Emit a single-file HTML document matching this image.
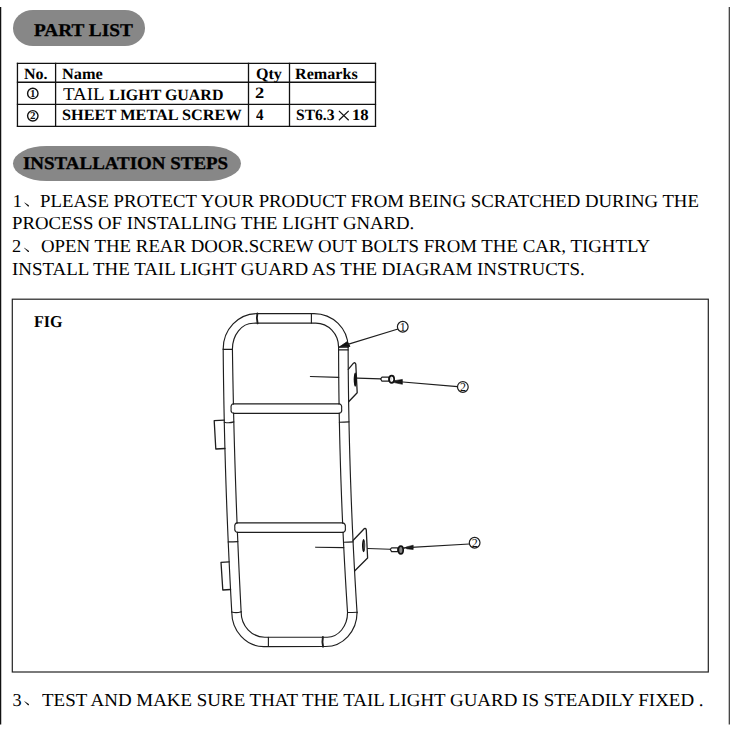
<!DOCTYPE html>
<html><head><meta charset="utf-8"><style>
html,body{margin:0;padding:0;background:#fff;}
body{width:732px;height:732px;position:relative;overflow:hidden;font-family:"Liberation Serif", serif;color:#000;}
.t{position:absolute;white-space:pre;transform-origin:0 0;text-rendering:geometricPrecision;}
.pill{position:absolute;background:#878787;}
svg{position:absolute;left:0;top:0;}
</style></head><body>
<div class="pill" style="left:13px;top:10px;width:132px;height:35.7px;border-radius:20px/17.85px"></div>
<div class="pill" style="left:13px;top:145.5px;width:227.8px;height:35.5px;border-radius:34px/17.75px"></div>
<svg width="732" height="732" viewBox="0 0 732 732">
<line x1="0.6" y1="7" x2="0.6" y2="724.5" stroke="#111" stroke-width="1.3"/>
<line x1="729.3" y1="7" x2="729.3" y2="724.5" stroke="#333" stroke-width="1.2"/>
<line x1="17.45" y1="62.75" x2="17.45" y2="126.94999999999999" stroke="#111" stroke-width="1.3"/>
<line x1="55.6" y1="62.75" x2="55.6" y2="126.94999999999999" stroke="#111" stroke-width="1.3"/>
<line x1="248.5" y1="62.75" x2="248.5" y2="126.94999999999999" stroke="#111" stroke-width="1.3"/>
<line x1="289.5" y1="62.75" x2="289.5" y2="126.94999999999999" stroke="#111" stroke-width="1.3"/>
<line x1="375.5" y1="62.75" x2="375.5" y2="126.94999999999999" stroke="#111" stroke-width="1.3"/>
<line x1="16.849999999999998" y1="63.35" x2="376.1" y2="63.35" stroke="#111" stroke-width="1.3"/>
<line x1="16.849999999999998" y1="82.25" x2="376.1" y2="82.25" stroke="#111" stroke-width="1.3"/>
<line x1="16.849999999999998" y1="104.35" x2="376.1" y2="104.35" stroke="#111" stroke-width="1.3"/>
<line x1="16.849999999999998" y1="126.35" x2="376.1" y2="126.35" stroke="#111" stroke-width="1.3"/>
<circle cx="32.8" cy="93.45" r="5.2" fill="none" stroke="#111" stroke-width="1.4"/>
<text x="32.8" y="97.15" font-size="11" font-weight="bold" text-anchor="middle" font-family="Liberation Serif" fill="#111">1</text>
<circle cx="32.8" cy="115.85" r="5.2" fill="none" stroke="#111" stroke-width="1.4"/>
<text x="32.8" y="118.94999999999999" font-size="11" font-weight="bold" text-anchor="middle" font-family="Liberation Serif" fill="#111">2</text>
<path d="M338.9 110.9 L348.7 120.2 M348.7 110.9 L338.9 120.2" stroke="#111" stroke-width="1.25"/>
<path d="M24.10 202.60 Q24.60 202.20 25.40 203.00 L28.50 205.00 Q29.40 205.70 28.90 206.50 Q28.20 206.90 27.50 206.00 Z" fill="#111"/>
<path d="M24.10 248.00 Q24.60 247.60 25.40 248.40 L28.50 250.40 Q29.40 251.10 28.90 251.90 Q28.20 252.30 27.50 251.40 Z" fill="#111"/>
<path d="M24.10 701.30 Q24.60 700.90 25.40 701.70 L28.50 703.70 Q29.40 704.40 28.90 705.20 Q28.20 705.60 27.50 704.70 Z" fill="#111"/>
<rect x="12.3" y="299.2" width="696" height="372.8" fill="none" stroke="#222" stroke-width="1.2"/>
<path d="M223.19 349 A33.8 35.4 0 0 1 257 313.6 L314 313.6 A34.1 33.6 0 0 1 348.1 347.2" stroke="#1e1e1e" stroke-width="1.15" fill="none" stroke-linecap="round" stroke-linejoin="round"/>
<path d="M232.43 349 A20.7 25.8 0 0 1 253.1 323.2 L315.7 323.1 A22.9 24.1 0 0 1 338.59 347.2" stroke="#1e1e1e" stroke-width="1.15" fill="none" stroke-linecap="round" stroke-linejoin="round"/>
<path d="M257.4 313.4 Q256.2 318.4 257.6 323.4" stroke="#1e1e1e" stroke-width="1.9" fill="none" stroke-linecap="round" stroke-linejoin="round"/>
<path d="M311.4 313.6 L311.4 323.1" stroke="#1e1e1e" stroke-width="1.15" fill="none" stroke-linecap="round" stroke-linejoin="round"/>
<path d="M223.19 349.3 L232.43 349.3" stroke="#1e1e1e" stroke-width="1.15" fill="none" stroke-linecap="round" stroke-linejoin="round"/>
<path d="M338.59 347.2 L348.13 347.2" stroke="#1e1e1e" stroke-width="1.15" fill="none" stroke-linecap="round" stroke-linejoin="round"/>
<path d="M338.59 349.9 L348.13 349.9" stroke="#1e1e1e" stroke-width="1.15" fill="none" stroke-linecap="round" stroke-linejoin="round"/>
<path d="M223.19,349.00 L223.22,352.98 L223.26,356.97 L223.30,360.95 L223.34,364.94 L223.39,368.92 L223.44,372.91 L223.49,376.89 L223.54,380.88 L223.60,384.86 L223.66,388.85 L223.73,392.83 L223.79,396.82 L223.86,400.80 L223.93,404.79 L224.01,408.77 L224.09,412.76 L224.17,416.74 L224.25,420.73 L224.34,424.71 L224.43,428.70 L224.52,432.68 L224.62,436.67 L224.72,440.65 L224.82,444.64 L224.92,448.62 L225.03,452.61 L225.14,456.59 L225.26,460.58 L225.37,464.56 L225.49,468.55 L225.62,472.53 L225.74,476.52 L225.87,480.50 L226.00,484.48 L226.14,488.47 L226.27,492.45 L226.41,496.44 L226.56,500.42 L226.70,504.41 L226.85,508.39 L227.00,512.38 L227.16,516.36 L227.32,520.35 L227.48,524.33 L227.64,528.32 L227.81,532.30 L227.98,536.29 L228.15,540.27 L228.33,544.26 L228.51,548.24 L228.69,552.23 L228.87,556.21 L229.06,560.20 L229.25,564.18 L229.45,568.17 L229.64,572.15 L229.84,576.14 L230.04,580.12 L230.25,584.11 L230.46,588.09 L230.67,592.08 L230.88,596.06 L231.10,600.05 L231.32,604.03 L231.54,608.02 L231.77,612.00" stroke="#1e1e1e" stroke-width="1.15" fill="none" stroke-linecap="round" stroke-linejoin="round"/>
<path d="M232.43,349.00 L232.48,352.92 L232.54,356.84 L232.60,360.76 L232.66,364.69 L232.73,368.61 L232.79,372.53 L232.86,376.45 L232.93,380.37 L233.01,384.29 L233.08,388.21 L233.16,392.14 L233.24,396.06 L233.32,399.98 L233.40,403.90" stroke="#1e1e1e" stroke-width="1.15" fill="none" stroke-linecap="round" stroke-linejoin="round"/>
<path d="M233.61,413.10 L233.70,417.03 L233.80,420.95 L233.89,424.88 L233.99,428.80 L234.09,432.73 L234.20,436.65 L234.30,440.58 L234.41,444.50 L234.52,448.43 L234.63,452.35 L234.75,456.28 L234.87,460.20 L234.99,464.12 L235.11,468.05 L235.23,471.98 L235.36,475.90 L235.49,479.83 L235.62,483.75 L235.75,487.68 L235.88,491.60 L236.02,495.52 L236.16,499.45 L236.30,503.38 L236.45,507.30 L236.59,511.23 L236.74,515.15 L236.89,519.08 L237.05,523.00" stroke="#1e1e1e" stroke-width="1.15" fill="none" stroke-linecap="round" stroke-linejoin="round"/>
<path d="M237.42,532.40 L237.59,536.38 L237.75,540.36 L237.92,544.34 L238.09,548.32 L238.27,552.30 L238.44,556.28 L238.62,560.26 L238.80,564.24 L238.98,568.22 L239.16,572.20 L239.35,576.18 L239.54,580.16 L239.73,584.14 L239.93,588.12 L240.12,592.10 L240.32,596.08 L240.52,600.06 L240.72,604.04 L240.93,608.02 L241.14,612.00" stroke="#1e1e1e" stroke-width="1.15" fill="none" stroke-linecap="round" stroke-linejoin="round"/>
<path d="M338.59,347.20 L338.59,350.98 L338.61,354.76 L338.62,358.54 L338.64,362.32 L338.66,366.10 L338.68,369.88 L338.71,373.66 L338.74,377.44 L338.78,381.22 L338.82,385.00 L338.86,388.78 L338.90,392.56 L338.95,396.34 L339.01,400.12 L339.06,403.90" stroke="#1e1e1e" stroke-width="1.15" fill="none" stroke-linecap="round" stroke-linejoin="round"/>
<path d="M339.21,413.10 L339.28,417.03 L339.36,420.95 L339.44,424.88 L339.52,428.80 L339.60,432.73 L339.69,436.65 L339.79,440.58 L339.88,444.50 L339.98,448.43 L340.09,452.35 L340.20,456.28 L340.31,460.20 L340.42,464.12 L340.54,468.05 L340.67,471.98 L340.79,475.90 L340.92,479.83 L341.06,483.75 L341.20,487.68 L341.34,491.60 L341.48,495.52 L341.63,499.45 L341.79,503.38 L341.94,507.30 L342.10,511.23 L342.27,515.15 L342.44,519.08 L342.61,523.00" stroke="#1e1e1e" stroke-width="1.15" fill="none" stroke-linecap="round" stroke-linejoin="round"/>
<path d="M343.04,532.40 L343.22,536.22 L343.40,540.04 L343.58,543.86 L343.78,547.68 L343.97,551.50 L344.17,555.31 L344.37,559.13 L344.57,562.95 L344.78,566.77 L344.99,570.59 L345.21,574.41 L345.42,578.23 L345.65,582.05 L345.87,585.87 L346.10,589.69 L346.33,593.50 L346.57,597.32 L346.81,601.14 L347.05,604.96 L347.30,608.78 L347.55,612.60" stroke="#1e1e1e" stroke-width="1.15" fill="none" stroke-linecap="round" stroke-linejoin="round"/>
<path d="M348.12,347.20 L348.14,351.16 L348.16,355.12 L348.18,359.08 L348.20,363.04 L348.23,367.01 L348.26,370.97 L348.30,374.93 L348.33,378.89 L348.38,382.85 L348.42,386.81 L348.47,390.77 L348.53,394.73 L348.58,398.70 L348.64,402.66 L348.71,406.62 L348.78,410.58 L348.85,414.54 L348.92,418.50 L349.00,422.46 L349.08,426.42 L349.17,430.39 L349.26,434.35 L349.35,438.31 L349.45,442.27 L349.55,446.23 L349.66,450.19 L349.76,454.15 L349.88,458.11 L349.99,462.07 L350.11,466.04 L350.23,470.00 L350.36,473.96 L350.49,477.92 L350.62,481.88 L350.76,485.84 L350.90,489.80 L351.04,493.76 L351.19,497.73 L351.34,501.69 L351.50,505.65 L351.65,509.61 L351.82,513.57 L351.98,517.53 L352.15,521.49 L352.32,525.45 L352.50,529.41 L352.68,533.38 L352.87,537.34 L353.05,541.30 L353.24,545.26 L353.44,549.22 L353.64,553.18 L353.84,557.14 L354.05,561.10 L354.25,565.07 L354.47,569.03 L354.68,572.99 L354.90,576.95 L355.13,580.91 L355.36,584.87 L355.59,588.83 L355.82,592.79 L356.06,596.76 L356.30,600.72 L356.55,604.68 L356.80,608.64 L357.05,612.60" stroke="#1e1e1e" stroke-width="1.15" fill="none" stroke-linecap="round" stroke-linejoin="round"/>
<path d="M233.40 403.8 L339.06 403.8" stroke="#1e1e1e" stroke-width="1.15" fill="none" stroke-linecap="round" stroke-linejoin="round"/>
<path d="M233.62 413.3 L339.22 413.3" stroke="#1e1e1e" stroke-width="1.15" fill="none" stroke-linecap="round" stroke-linejoin="round"/>
<path d="M233.40 403.8 Q230.51 404.40 231.11 408.55 Q230.51 412.70 233.62 413.3" stroke="#1e1e1e" stroke-width="1.15" fill="none" stroke-linecap="round" stroke-linejoin="round"/>
<path d="M339.06 403.8 Q342.24 404.40 341.64 408.55 Q342.24 412.70 339.22 413.3" stroke="#1e1e1e" stroke-width="1.15" fill="none" stroke-linecap="round" stroke-linejoin="round"/>
<path d="M237.04 522.9 L342.60 522.9" stroke="#1e1e1e" stroke-width="1.15" fill="none" stroke-linecap="round" stroke-linejoin="round"/>
<path d="M237.42 532.4 L343.04 532.4" stroke="#1e1e1e" stroke-width="1.15" fill="none" stroke-linecap="round" stroke-linejoin="round"/>
<path d="M237.04 522.9 Q234.23 523.50 234.83 527.65 Q234.23 531.80 237.42 532.4" stroke="#1e1e1e" stroke-width="1.15" fill="none" stroke-linecap="round" stroke-linejoin="round"/>
<path d="M342.60 522.9 Q345.92 523.50 345.32 527.65 Q345.92 531.80 343.04 532.4" stroke="#1e1e1e" stroke-width="1.15" fill="none" stroke-linecap="round" stroke-linejoin="round"/>
<path d="M224.28 422.2 Q229.06 423.40 233.83 421.90" stroke="#1e1e1e" stroke-width="1.15" fill="none" stroke-linecap="round" stroke-linejoin="round"/>
<path d="M339.38 422.2 Q344.19 422.20 349.00 421.90" stroke="#1e1e1e" stroke-width="1.15" fill="none" stroke-linecap="round" stroke-linejoin="round"/>
<path d="M228.22 541.9 Q233.02 541.90 237.82 541.60" stroke="#1e1e1e" stroke-width="1.15" fill="none" stroke-linecap="round" stroke-linejoin="round"/>
<path d="M343.50 542.2 Q348.30 542.20 353.10 541.90" stroke="#1e1e1e" stroke-width="1.15" fill="none" stroke-linecap="round" stroke-linejoin="round"/>
<path d="M231.77 612.0 Q236.45 613.40 241.14 611.70" stroke="#1e1e1e" stroke-width="1.15" fill="none" stroke-linecap="round" stroke-linejoin="round"/>
<path d="M347.55 612.5 Q352.29 612.50 357.04 612.20" stroke="#1e1e1e" stroke-width="1.15" fill="none" stroke-linecap="round" stroke-linejoin="round"/>
<path d="M231.77 612 A31.9 34.6 0 0 0 263.7 646.6 L325.7 646.5 A31.35 34.0 0 0 0 357.05 612.6" stroke="#1e1e1e" stroke-width="1.15" fill="none" stroke-linecap="round" stroke-linejoin="round"/>
<path d="M241.14 612 A23.66 25.2 0 0 0 264.8 637.2 L327.3 637.2 A20.25 24.6 0 0 0 347.55 612.6" stroke="#1e1e1e" stroke-width="1.15" fill="none" stroke-linecap="round" stroke-linejoin="round"/>
<path d="M268.4 637.2 L268.4 646.5" stroke="#1e1e1e" stroke-width="1.15" fill="none" stroke-linecap="round" stroke-linejoin="round"/>
<path d="M322.9 637.0 Q321.9 641.8 323.1 646.7" stroke="#1e1e1e" stroke-width="1.9" fill="none" stroke-linecap="round" stroke-linejoin="round"/>
<path d="M310.4 376.5 L338.74 377.35" stroke="#1e1e1e" stroke-width="1.15" fill="none" stroke-linecap="round" stroke-linejoin="round"/>
<path d="M357.2 378.15 L380.7 378.85" stroke="#1e1e1e" stroke-width="1.15" fill="none" stroke-linecap="round" stroke-linejoin="round"/>
<path d="M315.7 547.2 L343.77 547.6" stroke="#1e1e1e" stroke-width="1.15" fill="none" stroke-linecap="round" stroke-linejoin="round"/>
<path d="M367.6 548.5 L390.2 549.2" stroke="#1e1e1e" stroke-width="1.15" fill="none" stroke-linecap="round" stroke-linejoin="round"/>
<path d="M224.25 420.10 L214.20 420.60 L215.80 449.00 L224.94 448.50" stroke="#1e1e1e" stroke-width="1.3" fill="none" stroke-linecap="round" stroke-linejoin="round"/>
<path d="M229.16 561.80 L221.00 562.30 L222.80 590.00 L230.56 589.50" stroke="#1e1e1e" stroke-width="1.3" fill="none" stroke-linecap="round" stroke-linejoin="round"/>
<path d="M348.25 369.3 L353.5 363.2 Q355.2 362.0 355.8 364.2 L357.2 392.8 L348.63 401.8" stroke="#1e1e1e" stroke-width="1.3" fill="none" stroke-linecap="round" stroke-linejoin="round"/>
<ellipse cx="355.2" cy="379.6" rx="1.5" ry="7.2" fill="#111"/>
<path d="M353.01 540.5 L364.2 528.7 Q366.0 527.8 366.3 530.2 L367.6 558.0 L354.57 571.0" stroke="#1e1e1e" stroke-width="1.3" fill="none" stroke-linecap="round" stroke-linejoin="round"/>
<ellipse cx="363.6" cy="545.6" rx="1.6" ry="6.6" fill="#111"/>
<ellipse cx="364.1" cy="545.6" rx="0.5" ry="4.0" fill="#777"/>
<path d="M380.6 378.9 L382.0 377.2 L388.9 377.2 L388.9 381.2 L382.0 381.2 Z" stroke="#1e1e1e" stroke-width="1.2" fill="none" stroke-linecap="round" stroke-linejoin="round"/>
<ellipse cx="391.7" cy="379.3" rx="2.5" ry="3.6" fill="#fff" stroke="#111" stroke-width="1.7"/>
<path d="M390.6 381 L391.9 377.4" stroke="#ccc" stroke-width="0.8" fill="none" stroke-linecap="round" stroke-linejoin="round"/>
<path d="M394.3 380.7 L402.4 379.4 L402.4 384.3 L394.3 382.6 Z" fill="#111" stroke="#111" stroke-width="0.6" stroke-linejoin="round"/>
<path d="M394.0 381.3 L457.6 386.6" stroke="#1e1e1e" stroke-width="1.15" fill="none" stroke-linecap="round" stroke-linejoin="round"/>
<path d="M390.2 549.3 L391.6 547.8 L397.8 547.8 L397.8 551.6 L391.6 551.6 Z" stroke="#1e1e1e" stroke-width="1.2" fill="none" stroke-linecap="round" stroke-linejoin="round"/>
<ellipse cx="400.8" cy="550.0" rx="2.4" ry="3.9" fill="#888" stroke="#111" stroke-width="1.7"/>
<path d="M402.8 548.2 L407 547.6" stroke="#1e1e1e" stroke-width="1.5" fill="none" stroke-linecap="round" stroke-linejoin="round"/>
<path d="M406.6 546.9 L413.2 545.2 L413.2 549.5 L406.6 548.8 Z" fill="#111" stroke="#111" stroke-width="0.6" stroke-linejoin="round"/>
<path d="M407 547.6 L469.3 544.0" stroke="#1e1e1e" stroke-width="1.15" fill="none" stroke-linecap="round" stroke-linejoin="round"/>
<path d="M339.2 347.0 L347.3 341.6 L350.0 346.4 Z" fill="#111" stroke="#111" stroke-width="0.8" stroke-linejoin="round"/>
<path d="M347 344.6 L398.0 329.0" stroke="#1e1e1e" stroke-width="1.15" fill="none" stroke-linecap="round" stroke-linejoin="round"/>
<circle cx="402.75" cy="326.75" r="5.35" fill="#fff" stroke="#1e1e1e" stroke-width="1.2"/>
<text x="402.85" y="330.7" font-size="12" text-anchor="middle" font-family="Liberation Serif" fill="#111">1</text>
<circle cx="462.85" cy="386.95" r="5.35" fill="#fff" stroke="#1e1e1e" stroke-width="1.2"/>
<text x="462.95000000000005" y="390.9" font-size="12" text-anchor="middle" font-family="Liberation Serif" fill="#111">2</text>
<circle cx="474.65" cy="542.75" r="5.35" fill="#fff" stroke="#1e1e1e" stroke-width="1.2"/>
<text x="474.75" y="546.7" font-size="12" text-anchor="middle" font-family="Liberation Serif" fill="#111">2</text>
</svg>
<div class="t" style="left:34.03px;top:21px;font-size:18.0px;line-height:18.0px;font-weight:bold;transform:scaleX(1.0714);-webkit-text-stroke:0.3px #000;">PART LIST</div>
<div class="t" style="left:23.23px;top:155px;font-size:17.8px;line-height:17.8px;font-weight:bold;transform:scaleX(1.0654);-webkit-text-stroke:0.3px #000;">INSTALLATION STEPS</div>
<div class="t" style="left:34.23px;top:314px;font-size:16.5px;line-height:16.5px;font-weight:bold;transform:scaleX(0.9750);">FIG</div>
<div class="t" style="left:24.19px;top:67px;font-size:15.8px;line-height:15.8px;font-weight:bold;transform:scaleX(1.0136);">No.</div>
<div class="t" style="left:62.07px;top:67px;font-size:15.8px;line-height:15.8px;font-weight:bold;transform:scaleX(1.0316);">Name</div>
<div class="t" style="left:255.68px;top:67px;font-size:15.8px;line-height:15.8px;font-weight:bold;transform:scaleX(1.0167);">Qty</div>
<div class="t" style="left:295.38px;top:67px;font-size:15.8px;line-height:15.8px;font-weight:bold;transform:scaleX(1.0200);">Remarks</div>
<div class="t" style="left:63.10px;top:85px;font-size:18.0px;line-height:18.0px;font-weight:normal;transform:scaleX(1.0538);">TAIL</div>
<div class="t" style="left:109.39px;top:88px;font-size:15.8px;line-height:15.8px;font-weight:bold;transform:scaleX(1.0089);">LIGHT GUARD</div>
<div class="t" style="left:254.83px;top:86px;font-size:15.8px;line-height:15.8px;font-weight:bold;transform:scaleX(1.1667);">2</div>
<div class="t" style="left:62.47px;top:108px;font-size:15.8px;line-height:15.8px;font-weight:bold;transform:scaleX(1.0320);">SHEET METAL SCREW</div>
<div class="t" style="left:256.30px;top:108px;font-size:15.8px;line-height:15.8px;font-weight:bold;transform:scaleX(0.9500);">4</div>
<div class="t" style="left:295.81px;top:108px;font-size:15.8px;line-height:15.8px;font-weight:bold;transform:scaleX(0.9868);">ST6.3</div>
<div class="t" style="left:351.64px;top:108px;font-size:15.8px;line-height:15.8px;font-weight:bold;transform:scaleX(1.0571);">18</div>
<div class="t" style="left:12.80px;top:192px;font-size:18.3px;line-height:18.3px;font-weight:normal;transform:scaleX(1.0000);">1</div>
<div class="t" style="left:40.27px;top:192px;font-size:18.3px;line-height:18.3px;font-weight:normal;transform:scaleX(1.0275);">PLEASE PROTECT YOUR PRODUCT FROM BEING SCRATCHED DURING THE</div>
<div class="t" style="left:12.47px;top:214px;font-size:18.3px;line-height:18.3px;font-weight:normal;transform:scaleX(1.0264);">PROCESS OF INSTALLING THE LIGHT GNARD.</div>
<div class="t" style="left:12.10px;top:237px;font-size:18.3px;line-height:18.3px;font-weight:normal;transform:scaleX(1.0000);">2</div>
<div class="t" style="left:40.77px;top:237px;font-size:18.3px;line-height:18.3px;font-weight:normal;transform:scaleX(1.0297);">OPEN THE REAR DOOR.SCREW OUT BOLTS FROM THE CAR, TIGHTLY</div>
<div class="t" style="left:12.47px;top:260px;font-size:18.3px;line-height:18.3px;font-weight:normal;transform:scaleX(1.0347);">INSTALL THE TAIL LIGHT GUARD AS THE DIAGRAM INSTRUCTS.</div>
<div class="t" style="left:12.50px;top:691px;font-size:18.3px;line-height:18.3px;font-weight:normal;transform:scaleX(1.0000);">3</div>
<div class="t" style="left:41.50px;top:691px;font-size:18.3px;line-height:18.3px;font-weight:normal;transform:scaleX(1.0357);">TEST AND MAKE SURE THAT THE TAIL LIGHT GUARD IS STEADILY FIXED .</div>
</body></html>
